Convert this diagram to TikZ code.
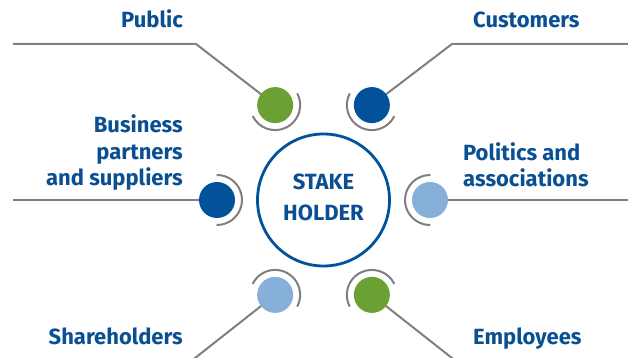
\documentclass[tikz,border=0pt]{standalone}
\usepackage{fontspec}
\setmainfont{Fira Sans}
\usetikzlibrary{calc,backgrounds}
\definecolor{txtblue}{HTML}{0B4F93}
\definecolor{dblue}{HTML}{01529B}
\definecolor{lblue}{HTML}{86B0D9}
\definecolor{sgreen}{HTML}{6BA034}
\definecolor{lgray}{HTML}{7F7F7F}
\begin{document}
\begin{tikzpicture}[x=1pt,y=1pt,
  lbl/.style={inner sep=0pt,text=txtblue,font=\fontsize{22}{26.5}\selectfont\bfseries},
  dot/.style={circle,inner sep=0pt,minimum size=36pt},
  conn/.style={draw=lgray,line width=2pt},
  ring/.style={draw=lgray,line width=2pt},
  hub/.style={circle,draw=dblue,line width=2.8pt,minimum size=132pt,inner sep=0pt,fill=white}]
\useasboundingbox (0,0) rectangle (628,358);
\clip (0,0) rectangle (628,358);
\coordinate (cen) at (323.5,158);
% connector corner / end points
\coordinate (pubc) at (196,314);  \coordinate (pube) at (13,314);
\coordinate (cusc) at (452,314);  \coordinate (cuse) at (630,314);
\coordinate (buse) at (13,158);
\coordinate (pole) at (630,158);
\coordinate (shae) at (190,-4);
\coordinate (empe) at (457,-4);
% small circles
\node[dot,fill=sgreen] (pub) at ($(cen)+(117:106.5)$) {};
\node[dot,fill=dblue]  (cus) at ($(cen)+(63:106.5)$) {};
\node[dot,fill=dblue]  (bus) at ($(cen)+(180:106.5)$) {};
\node[dot,fill=lblue]  (pol) at ($(cen)+(0:106.5)$) {};
\node[dot,fill=lblue]  (sha) at ($(cen)+(243:106.5)$) {};
\node[dot,fill=sgreen] (emp) at ($(cen)+(297:106.5)$) {};
% connectors (behind circles)
\begin{scope}[on background layer]
\draw[conn] (pub.center) -- (pubc) -- (pube);
\draw[conn] (cus.center) -- (cusc) -- (cuse);
\draw[conn] (bus.center) -- (buse);
\draw[conn] (pol.center) -- (pole);
\draw[conn] (sha.center) -- (shae);
\draw[conn] (emp.center) -- (empe);
\end{scope}
% rings facing the hub
\draw[ring] ([shift={(-154:25)}]pub.center) arc[start angle=-154,end angle=28,radius=25];
\draw[ring] ([shift={(-208:25)}]cus.center) arc[start angle=-208,end angle=-26,radius=25];
\draw[ring] ([shift={(-91:25)}]bus.center) arc[start angle=-91,end angle=91,radius=25];
\draw[ring] ([shift={(89:25)}]pol.center) arc[start angle=89,end angle=271,radius=25];
\draw[ring] ([shift={(-28:25)}]sha.center) arc[start angle=-28,end angle=154,radius=25];
\draw[ring] ([shift={(26:25)}]emp.center) arc[start angle=26,end angle=208,radius=25];
% hub
\node[hub] (hubn) at (cen) {};
\node[lbl,anchor=base] (st1) at (323.5,168) {STAKE};
\node[lbl,anchor=base] (st2) at (323.5,137) {HOLDER};
% labels
\node[lbl,anchor=base east] (tpub) at (183,330) {Public};
\node[lbl,anchor=base west] (tcus) at (473,330) {Customers};
\node[lbl,anchor=base east,align=right] (tbus) at (183,172) {Business\\partners\\and suppliers};
\node[lbl,anchor=base west,align=left] (tpol) at (463,171) {Politics and\\associations};
\node[lbl,anchor=base east] (tsha) at (183,13) {Shareholders};
\node[lbl,anchor=base west] (temp) at (473,13) {Employees};
\end{tikzpicture}
\end{document}
